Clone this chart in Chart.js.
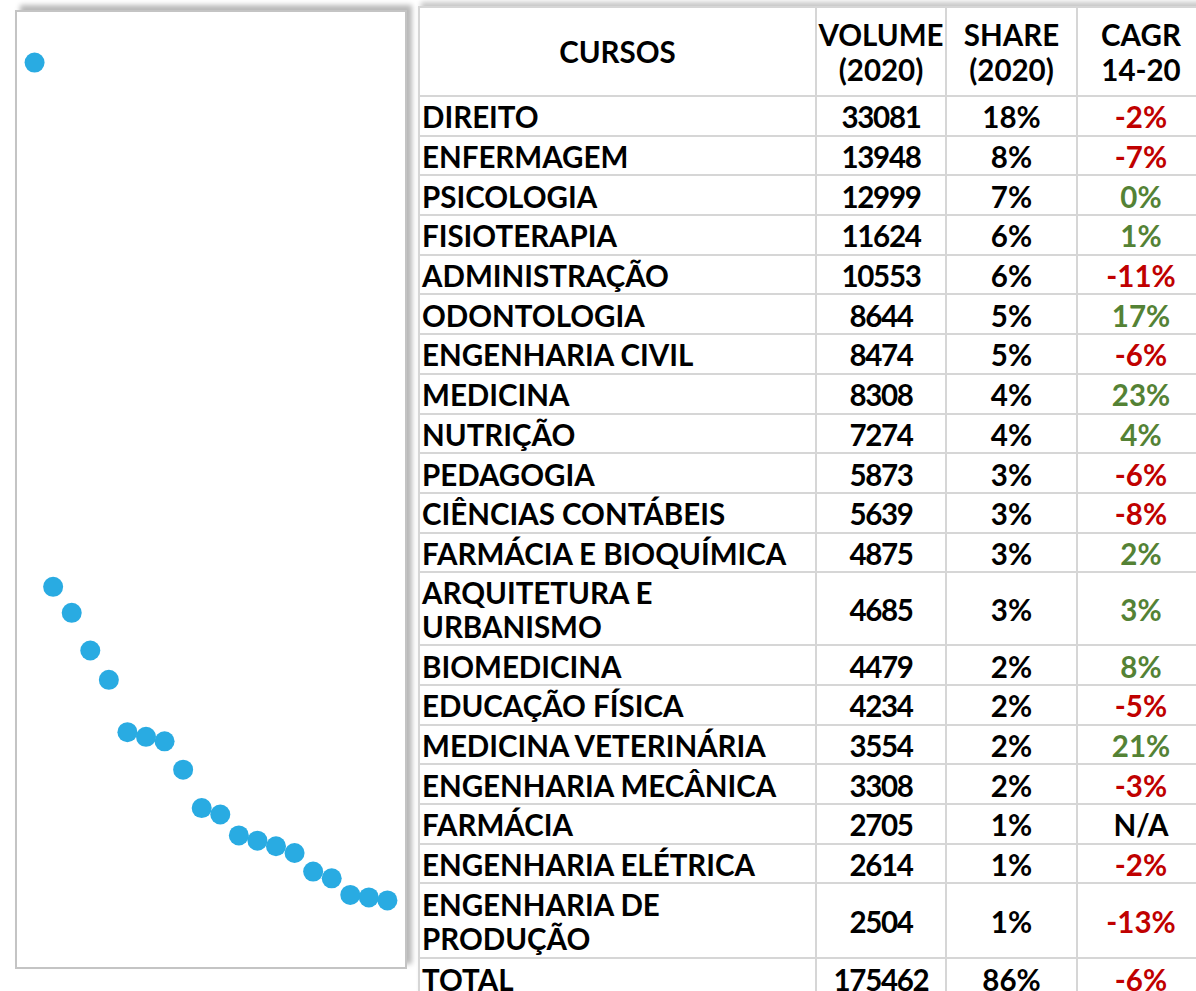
<!DOCTYPE html>
<html>
<head>
<meta charset="utf-8">
<script src="https://cdn.jsdelivr.net/npm/chart.js@4.4.1/dist/chart.umd.min.js"></script>
<style>
  html, body { margin: 0; padding: 0; background: #ffffff; }
  body { width: 1196px; height: 991px; overflow: hidden; position: relative; font-family: Lato, "Open Sans", sans-serif; }
  #chartBox { position: absolute; left: 15px; top: 10px; width: 392px; height: 959px; box-sizing: border-box;
    border: 2px solid #c4c4c4; box-shadow: 5px -5px 5px rgba(0,0,0,0.28); background: #fff; }
  #chartWrap { position: absolute; left: 16px; top: 10px; width: 390px; height: 959px; }
  #tableBox { position: absolute; left: 418px; top: 6px; width: 800px; box-shadow: 3px -4px 5px rgba(0,0,0,0.22); background:#fff; }
  table { border-collapse: collapse; table-layout: fixed; font-weight: 700; font-size: 29.5px; color: #000; }
  td, th { border: 2px solid #d6d6d6; padding: 0; overflow: hidden; white-space: nowrap; }
  th { font-weight: 700; line-height: 35px; text-align: center; vertical-align: middle; height: 87px; }
  td { line-height: 34px; vertical-align: middle; padding-top: 3px; }
  td.name { text-align: left; padding-left: 2px; }
  td.num { text-align: center; }
  td.vol { letter-spacing: -1.3px; }
  td.neg { color: #c00000; }
  td.pos { color: #548235; }
  td.na { color: #000; }
</style>
</head>
<body>
<div id="chartBox"></div>
<div id="chartWrap"><canvas id="c"></canvas></div>
<div id="tableBox"><table id="t"></table></div>
<script>
const headers = ["CURSOS", "VOLUME<br>(2020)", "SHARE<br>(2020)", "CAGR<br>14-20"];
const courses = ["DIREITO", "ENFERMAGEM", "PSICOLOGIA", "FISIOTERAPIA", "ADMINISTRAÇÃO", "ODONTOLOGIA",
  "ENGENHARIA CIVIL", "MEDICINA", "NUTRIÇÃO", "PEDAGOGIA", "CIÊNCIAS CONTÁBEIS", "FARMÁCIA E BIOQUÍMICA",
  "ARQUITETURA E URBANISMO", "BIOMEDICINA", "EDUCAÇÃO FÍSICA", "MEDICINA VETERINÁRIA", "ENGENHARIA MECÂNICA",
  "FARMÁCIA", "ENGENHARIA ELÉTRICA", "ENGENHARIA DE PRODUÇÃO"];
const volume = [33081, 13948, 12999, 11624, 10553, 8644, 8474, 8308, 7274, 5873, 5639, 4875, 4685, 4479, 4234, 3554, 3308, 2705, 2614, 2504];
const share = [18, 8, 7, 6, 6, 5, 5, 4, 4, 3, 3, 3, 3, 2, 2, 2, 2, 1, 1, 1];
const cagr = [-2, -7, 0, 1, -11, 17, -6, 23, 4, -6, -8, 2, 3, 8, -5, 21, -3, null, -2, -13];
const total = {label: "TOTAL", volume: 175462, share: 86, cagr: -6};

// Table
const colW = [397, 130, 131, 128];
const t = document.getElementById('t');
let html = '<colgroup>' + colW.map(w => '<col style="width:' + w + 'px">').join('') + '</colgroup>';
html += '<tr>' + headers.map(h => '<th>' + h + '</th>').join('') + '</tr>';
function cagrCell(v) {
  if (v === null) return '<td class="num na">N/A</td>';
  return '<td class="num ' + (v < 0 ? 'neg' : 'pos') + '">' + v + '%</td>';
}
const twoLine = {"ARQUITETURA E URBANISMO": ["ARQUITETURA E", "URBANISMO", 72], "ENGENHARIA DE PRODUÇÃO": ["ENGENHARIA DE", "PRODUÇÃO", 75]};
courses.forEach((c, i) => {
  let name = c, h = 39.7;
  if (twoLine[c]) { name = twoLine[c][0] + '<br>' + twoLine[c][1]; h = twoLine[c][2]; }
  html += '<tr style="height:' + h + 'px"><td class="name">' + name + '</td><td class="num vol">' + volume[i] +
    '</td><td class="num">' + share[i] + '%</td>' + cagrCell(cagr[i]) + '</tr>';
});
html += '<tr style="height:40px"><td class="name">' + total.label + '</td><td class="num vol">' + total.volume +
  '</td><td class="num">' + total.share + '%</td>' + cagrCell(total.cagr) + '</tr>';
t.innerHTML = html;

// Chart
const points = volume.map((v, i) => ({x: i + 1, y: v}));
new Chart(document.getElementById('c'), {
  type: 'scatter',
  data: { datasets: [{ data: points, backgroundColor: '#29abe2', borderWidth: 0, pointRadius: 10, pointHoverRadius: 10, clip: false }] },
  options: {
    responsive: true, maintainAspectRatio: false, animation: false,
    layout: { padding: 0, autoPadding: false },
    plugins: { legend: { display: false }, tooltip: { enabled: false } },
    scales: {
      x: { type: 'linear', min: 0, max: 21, display: false },
      y: { type: 'linear', min: 0, max: 35000, display: false }
    }
  }
});
</script>
</body>
</html>
